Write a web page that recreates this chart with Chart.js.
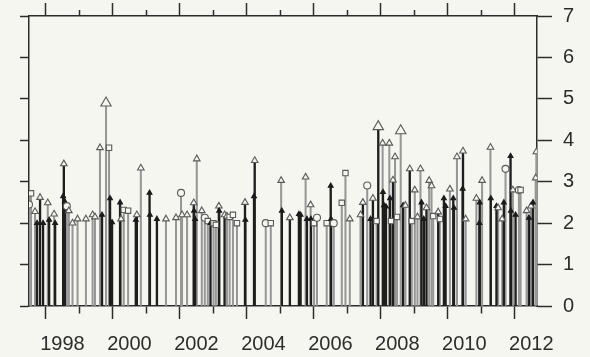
<!DOCTYPE html>
<html>
<head>
<meta charset="utf-8">
<script src="https://cdn.jsdelivr.net/npm/chart.js@4.4.1/dist/chart.umd.min.js"></script>
<style>
  html, body { margin: 0; padding: 0; background: #f6f6f1; overflow: hidden; }
  #wrap { position: relative; width: 590px; height: 357px; }
</style>
</head>
<body>
<div id="wrap"><canvas id="stemChart"></canvas></div>
<script>
// stems: year, value, marker (t open triangle, T big open triangle,
// f filled triangle, o circle, s square), tone of the stem (k black, g grey)
const stemYears = [
  1997.00, 1997.06, 1997.18, 1997.24, 1997.33, 1997.42, 1997.56, 1997.60, 1997.75, 1997.78,
  1998.02, 1998.04, 1998.07, 1998.13, 1998.19, 1998.30, 1998.45, 1998.70, 1998.90, 1998.97,
  1999.12, 1999.18, 1999.30, 1999.39, 1999.42, 1999.48, 1999.72, 1999.75, 1999.83, 1999.96,
  2000.19, 2000.22, 2000.34, 2000.60, 2000.61, 2000.82, 2001.09, 2001.39, 2001.54, 2001.57,
  2001.72, 2001.92, 2001.93, 2001.96, 2002.01, 2002.16, 2002.25, 2002.34, 2002.42, 2002.51,
  2002.58, 2002.67, 2002.68, 2002.84, 2002.91, 2002.99, 2003.09, 2003.21, 2003.45, 2003.46,
  2003.72, 2003.74, 2004.07, 2004.22, 2004.53, 2004.55, 2004.79, 2005.06, 2005.11, 2005.26,
  2005.30, 2005.41, 2005.42, 2005.51, 2005.60, 2005.89, 2006.01, 2006.02, 2006.10, 2006.34,
  2006.45, 2006.58, 2006.90, 2006.97, 2007.10, 2007.20, 2007.27, 2007.38, 2007.43, 2007.56,
  2007.57, 2007.60, 2007.66, 2007.76, 2007.78, 2007.81, 2007.87, 2007.93, 2007.99, 2008.10,
  2008.17, 2008.24, 2008.37, 2008.43, 2008.52, 2008.60, 2008.69, 2008.72, 2008.79, 2008.87,
  2008.95, 2009.02, 2009.07, 2009.22, 2009.27, 2009.39, 2009.44, 2009.57, 2009.67, 2009.69,
  2009.78, 2009.95, 2009.96, 2010.04, 2010.36, 2010.45, 2010.46, 2010.53, 2010.78, 2010.79,
  2010.96, 2011.01, 2011.13, 2011.18, 2011.23, 2011.38, 2011.39, 2011.45, 2011.53, 2011.63,
  2011.68, 2011.86, 2011.93, 2011.99, 2012.05, 2012.13, 2012.15
];
const stemValues = [
  2.45, 2.72, 2.28, 2.00, 2.62, 2.00, 2.49, 2.08, 2.22, 2.00,
  2.65, 3.43, 2.52, 2.41, 2.30, 2.00, 2.10, 2.10, 2.20, 2.15,
  3.82, 2.20, 4.90, 3.82, 2.60, 2.02, 2.50, 2.10, 2.32, 2.30,
  2.08, 2.20, 3.33, 2.73, 2.20, 2.10, 2.10, 2.13, 2.73, 2.20,
  2.20, 2.49, 2.30, 2.10, 3.55, 2.30, 2.13, 2.05, 2.00, 2.00,
  1.96, 2.41, 2.30, 2.20, 2.17, 2.15, 2.20, 2.00, 2.50, 2.08,
  2.65, 3.51, 2.00, 2.00, 3.03, 2.30, 2.13, 2.22, 2.20, 3.11,
  2.10, 2.44, 2.10, 2.00, 2.13, 2.00, 2.90, 2.10, 2.00, 2.49,
  3.21, 2.10, 2.20, 2.50, 2.91, 2.10, 2.60, 2.05, 4.33, 3.93,
  2.75, 2.43, 2.40, 3.93, 2.60, 2.05, 3.04, 3.60, 2.15, 4.23,
  2.43, 2.43, 3.31, 2.05, 2.80, 2.15, 3.31, 2.50, 2.10, 2.37,
  3.03, 2.90, 2.17, 2.27, 2.10, 2.60, 2.41, 2.82, 2.60, 2.37,
  3.60, 2.83, 3.74, 2.10, 2.60, 2.00, 2.50, 3.03, 3.83, 2.60,
  2.41, 2.37, 2.10, 2.50, 3.31, 3.62, 2.30, 2.80, 2.20, 2.80,
  2.80, 2.30, 2.13, 2.41, 2.50, 3.09, 3.72
];
const stemMarks = [
  'o','s','t','f','t','f','t','f','t','f',
  'f','t','f','o','t','t','t','t','t','t',
  't','f','T','s','f','f','f','t','s','s',
  'f','t','t','f','f','f','t','t','o','t',
  't','t','f','f','t','t','o','s','f','s',
  's','t','f','t','t','s','s','s','t','f',
  'f','t','o','s','t','f','t','f','f','t',
  'f','t','f','s','o','s','f','f','o','s',
  's','t','t','t','o','f','t','s','T','t',
  'f','f','f','t','f','s','t','t','s','T',
  'f','t','t','s','t','t','t','f','f','t',
  't','t','s','t','s','f','f','t','f','f',
  't','f','t','t','t','f','f','t','t','f',
  'f','t','t','f','o','f','f','t','f','o',
  's','t','f','t','f','t','t'
];
const stemTones = [
  'g','g','g','k','k','k','g','k','g','k',
  'k','k','k','g','g','g','g','g','g','g',
  'g','k','g','g','k','k','k','g','g','g',
  'k','k','g','k','k','k','g','g','g','g',
  'g','k','k','k','g','g','g','g','k','g',
  'g','k','k','k','g','g','g','g','k','k',
  'k','k','g','g','g','k','k','k','k','g',
  'k','g','k','g','g','g','k','k','g','g',
  'g','g','g','k','g','k','k','g','k','g',
  'k','k','k','g','k','g','k','g','g','g',
  'k','g','k','g','g','g','g','k','k','k',
  'g','g','g','k','g','k','k','g','k','k',
  'g','k','k','g','g','k','k','g','g','k',
  'k','g','g','k','g','k','k','g','k','g',
  'g','g','k','g','k','g','g'
];
const yearTicks = [1998, 2000, 2002, 2004, 2006, 2008, 2010, 2012];
const valueTicks = [0, 1, 2, 3, 4, 5, 6, 7];

const ink = '#2c2c2c';
const font = { family: 'Liberation Sans, Arial, sans-serif', size: 20 };

const points = stemYears.map((x, i) => ({ x: x, y: stemValues[i] }));
const darkStems = points.filter((p, i) => stemTones[i] === 'k');
const greyStems = points.filter((p, i) => stemTones[i] === 'g');

const styleOf = { t: 'triangle', T: 'triangle', f: 'triangle', o: 'circle', s: 'rect' };
const radiusOf = { t: 3.8, T: 6, f: 2.8, o: 3.5, s: 3.8 };

const frameTicks = (minorDash) => ({
  drawOnChartArea: false,
  drawTicks: true,
  tickColor: ink,
  tickWidth: 1.5,
  tickLength: 13,
  tickBorderDash: ctx => (ctx.tick && Math.round(ctx.tick.value) % 2 !== 0) ? minorDash : []
});

// pin the axis boxes so the frame sits where it does in the picture
const fixBox = size => s => {
  s.paddingTop = 0; s.paddingBottom = 0; s.paddingLeft = 0; s.paddingRight = 0;
  if (size) {
    if (s.isHorizontal()) s.height = size; else s.width = size;
  }
};

const ctx = document.getElementById('stemChart').getContext('2d');
const stemChart = new Chart(ctx, {
  type: 'bar',
  data: {
    datasets: [
      {
        type: 'scatter',
        data: points,
        order: 0,
        pointStyle: stemMarks.map(m => styleOf[m]),
        pointRadius: stemMarks.map(m => radiusOf[m]),
        pointBackgroundColor: stemMarks.map(m => m === 'f' ? '#1b1b1b' : '#f6f6f1'),
        pointBorderColor: stemMarks.map(m => m === 'f' ? '#1b1b1b' : '#5a5a5a'),
        pointBorderWidth: 1.1,
        showLine: false
      },
      {
        data: darkStems,
        order: 1,
        backgroundColor: '#1e1e1e',
        barThickness: 1.7,
        grouped: false
      },
      {
        data: greyStems,
        order: 2,
        backgroundColor: '#979797',
        barThickness: 1.4,
        grouped: false
      }
    ]
  },
  options: {
    responsive: true,
    maintainAspectRatio: false,
    animation: false,
    devicePixelRatio: 1,
    layout: { autoPadding: false, padding: { top: 3, left: 20, right: 16, bottom: 1 } },
    plugins: { legend: { display: false }, tooltip: { enabled: false } },
    scales: {
      x: {
        type: 'linear',
        position: 'bottom',
        offset: false,
        min: 1997,
        max: 2012.17,
        border: { color: ink, width: 1.5 },
        grid: frameTicks([7, 100]),
        afterFit: fixBox(50),
        ticks: {
          stepSize: 1,
          includeBounds: false,
          autoSkip: false,
          maxRotation: 0,
          padding: 13,
          color: ink,
          font: font,
          callback: v => yearTicks.includes(v) ? String(v) : ''
        }
      },
      xTop: {
        type: 'linear',
        position: 'top',
        offset: false,
        min: 1997,
        max: 2012.17,
        border: { color: ink, width: 1.5 },
        grid: frameTicks([0, 7, 7, 100]),
        afterFit: fixBox(13),
        ticks: { stepSize: 1, includeBounds: false, display: false }
      },
      y: {
        position: 'right',
        min: 0,
        max: 7,
        border: { color: ink, width: 1.5 },
        grid: { drawOnChartArea: false, tickLength: 15, tickColor: ink, tickWidth: 1.5 },
        afterFit: fixBox(37),
        ticks: {
          stepSize: 1,
          padding: 11,
          color: ink,
          font: font,
          callback: v => valueTicks.includes(v) ? String(v) : ''
        }
      },
      yLeft: {
        position: 'left',
        min: 0,
        max: 7,
        border: { color: ink, width: 1.5 },
        grid: { drawOnChartArea: false, tickLength: 9, tickColor: ink, tickWidth: 1.5 },
        afterFit: fixBox(9),
        ticks: { stepSize: 1, display: false }
      }
    }
  }
});
</script>
</body>
</html>
